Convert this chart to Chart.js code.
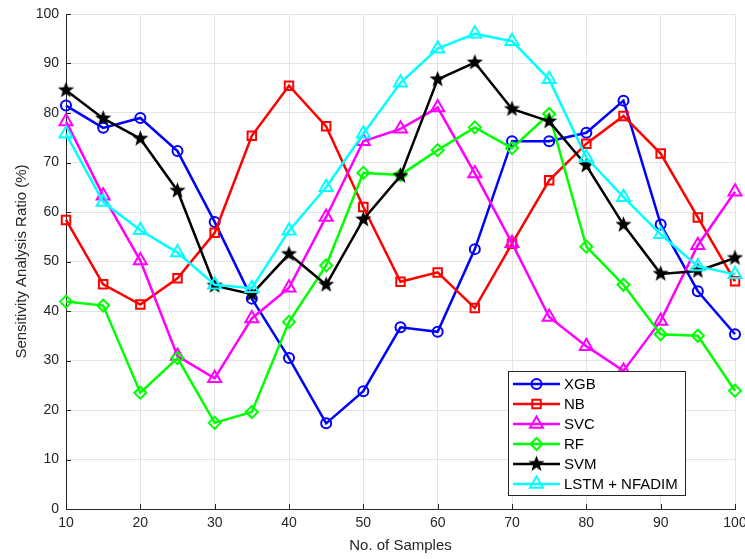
<!DOCTYPE html>
<html>
<head>
<meta charset="utf-8">
<script src="https://cdn.jsdelivr.net/npm/chart.js@4.4.0/dist/chart.umd.min.js"></script>
<style>
  html, body { margin: 0; padding: 0; background: #fff; }
  #wrap { width: 745px; height: 559px; }
</style>
</head>
<body>
<div id="wrap"><canvas id="myChart" width="745" height="559"></canvas></div>
<script>
// sample counts on the x axis
const samples = [10, 15, 20, 25, 30, 35, 40, 45, 50, 55, 60, 65, 70, 75, 80, 85, 90, 95, 100]

// sensitivity analysis ratio (%) per model
const xgb  = [81.5, 77.0, 79.0, 72.3, 58.0, 42.5, 30.5, 17.3, 23.8, 36.7, 35.8, 52.5, 74.3, 74.3, 76.0, 82.5, 57.5, 44.0, 35.3]
const nb   = [58.4, 45.4, 41.3, 46.6, 55.8, 75.4, 85.5, 77.3, 61.0, 45.9, 47.8, 40.6, 53.6, 66.4, 73.8, 79.4, 71.8, 58.9, 46.0]
const svc  = [78.3, 63.3, 50.2, 30.9, 26.4, 38.5, 44.7, 59.0, 74.3, 76.8, 81.1, 67.8, 53.7, 38.8, 32.9, 27.9, 38.0, 53.3, 64.1]
const rf   = [41.9, 41.1, 23.5, 30.5, 17.4, 19.6, 37.8, 49.2, 67.9, 67.5, 72.5, 77.1, 72.9, 79.8, 53.0, 45.3, 35.3, 35.0, 23.9]
const svm  = [84.6, 78.9, 74.8, 64.3, 45.1, 43.4, 51.5, 45.3, 58.5, 67.3, 86.8, 90.2, 80.8, 78.3, 69.4, 57.4, 47.5, 48.1, 50.7]
const lstm = [75.8, 62.0, 56.3, 51.8, 45.3, 44.6, 56.2, 65.0, 75.8, 86.1, 93.0, 96.0, 94.5, 86.8, 71.0, 63.0, 55.5, 49.0, 47.4]

const seriesNames = ['XGB', 'NB', 'SVC', 'RF', 'SVM', 'LSTM + NFADIM']
const xTicks = [10, 20, 30, 40, 50, 60, 70, 80, 90, 100]
const yTicks = [0, 10, 20, 30, 40, 50, 60, 70, 80, 90, 100]

const TEXT = '#262626'
const FONT = 'Liberation Sans, Arial, Helvetica, sans-serif'

// filled pentagram for the SVM marker
function makeStar(r) {
  const c = document.createElement('canvas')
  const s = Math.ceil(r * 2 + 2)
  c.width = s; c.height = s
  const g = c.getContext('2d')
  g.fillStyle = '#000'
  g.beginPath()
  for (let i = 0; i < 10; i++) {
    const rad = i % 2 === 0 ? r : r * 0.42
    const a = -Math.PI / 2 + i * Math.PI / 5
    const px = s / 2 + Math.cos(a) * rad, py = s / 2 + Math.sin(a) * rad
    if (i === 0) g.moveTo(px, py); else g.lineTo(px, py)
  }
  g.closePath()
  g.fill()
  return c
}
const star = makeStar(8.5)

function pts(arr) { return arr.map((v, i) => ({x: samples[i], y: v})) }

const styles = [
  {color: '#0000ff', pointStyle: 'circle',   radius: 5},
  {color: '#ff0000', pointStyle: 'rect',     radius: 6},
  {color: '#ff00ff', pointStyle: 'triangle', radius: 7.5},
  {color: '#00ff00', pointStyle: 'rectRot',  radius: 6},
  {color: '#000000', pointStyle: star,       radius: 8},
  {color: '#00ffff', pointStyle: 'triangle', radius: 7.5}
]
const allData = [xgb, nb, svc, rf, svm, lstm]

const datasets = allData.map((d, i) => ({
  label: seriesNames[i],
  data: pts(d),
  borderColor: styles[i].color,
  backgroundColor: 'rgba(0,0,0,0)',
  borderWidth: 2.5,
  pointStyle: styles[i].pointStyle,
  pointRadius: styles[i].radius,
  pointBorderWidth: 2,
  pointBorderColor: styles[i].color,
  pointBackgroundColor: 'rgba(0,0,0,0)',
  tension: 0,
  clip: false,
  order: 5 - i
}))

// matlab style legend in the lower right of the axes
const boxLegend = {
  id: 'boxLegend',
  afterDatasetsDraw(chart) {
    const ctx = chart.ctx
    const left = 508, top = 371, w = 177, h = 124
    ctx.save()
    ctx.fillStyle = '#fff'
    ctx.fillRect(left, top, w, h)
    ctx.strokeStyle = TEXT
    ctx.lineWidth = 1
    ctx.strokeRect(left + 0.5, top + 0.5, w, h)
    ctx.font = '15px ' + FONT
    ctx.textBaseline = 'middle'
    seriesNames.forEach((name, i) => {
      const y = top + 13 + i * 20
      const st = styles[i]
      ctx.strokeStyle = st.color
      ctx.lineWidth = 2.5
      ctx.beginPath()
      ctx.moveTo(513, y); ctx.lineTo(560, y)
      ctx.stroke()
      ctx.lineWidth = 2
      if (typeof st.pointStyle === 'string') {
        ctx.fillStyle = 'rgba(0,0,0,0)'
        Chart.helpers.drawPoint(ctx, {pointStyle: st.pointStyle, radius: st.radius, rotation: 0, borderWidth: 2}, 536.5, y)
      } else {
        ctx.drawImage(st.pointStyle, 536.5 - st.pointStyle.width / 2, y - st.pointStyle.height / 2)
      }
      ctx.fillStyle = '#000'
      ctx.fillText(name, 564, y + 1)
    })
    ctx.restore()
  }
}

// inward tick marks on the left and bottom axes
const innerTicks = {
  id: 'innerTicks',
  afterDraw(chart) {
    const ctx = chart.ctx, a = chart.chartArea
    const x = chart.scales.x, y = chart.scales.y
    ctx.save()
    ctx.strokeStyle = TEXT
    ctx.lineWidth = 1
    ctx.beginPath()
    yTicks.forEach(v => {
      const py = Math.round(y.getPixelForValue(v)) + 0.5
      ctx.moveTo(a.left, py); ctx.lineTo(a.left + 5, py)
    })
    xTicks.forEach(v => {
      const px = Math.round(x.getPixelForValue(v)) + 0.5
      ctx.moveTo(px, a.bottom); ctx.lineTo(px, a.bottom - 5)
    })
    ctx.stroke()
    ctx.restore()
  }
}

const chart = new Chart(document.getElementById('myChart').getContext('2d'), {
  type: 'line',
  data: {datasets: datasets},
  options: {
    responsive: false,
    animation: false,
    events: [],
    layout: {padding: {top: 14, right: 10, left: 0, bottom: 0}},
    plugins: {legend: {display: false}, tooltip: {enabled: false}},
    scales: {
      x: {
        type: 'linear', min: 10, max: 100,
        afterBuildTicks(s) { s.ticks = xTicks.map(v => ({value: v})) },
        afterFit(s) { s.height = 50; s.paddingLeft = 0; s.paddingRight = 0 },
        grid: {color: '#e3e3e3', drawTicks: false},
        border: {color: TEXT, width: 1},
        ticks: {color: TEXT, font: {family: FONT, size: 14}, padding: 6, maxRotation: 0},
        title: {display: true, text: 'No. of Samples', color: TEXT, font: {family: FONT, size: 15}, padding: {top: 0, bottom: 4}}
      },
      y: {
        min: 0, max: 100,
        afterBuildTicks(s) { s.ticks = yTicks.map(v => ({value: v})) },
        afterFit(s) { s.width = 66; s.paddingTop = 0; s.paddingBottom = 0 },
        grid: {color: '#e3e3e3', drawTicks: false},
        border: {color: TEXT, width: 1},
        ticks: {color: TEXT, font: {family: FONT, size: 14}, padding: 7},
        title: {display: true, text: 'Sensitivity Analysis Ratio (%)', color: TEXT, font: {family: FONT, size: 15}, padding: {top: 13, bottom: 0}}
      }
    }
  },
  plugins: [innerTicks, boxLegend]
})
</script>
</body>
</html>
